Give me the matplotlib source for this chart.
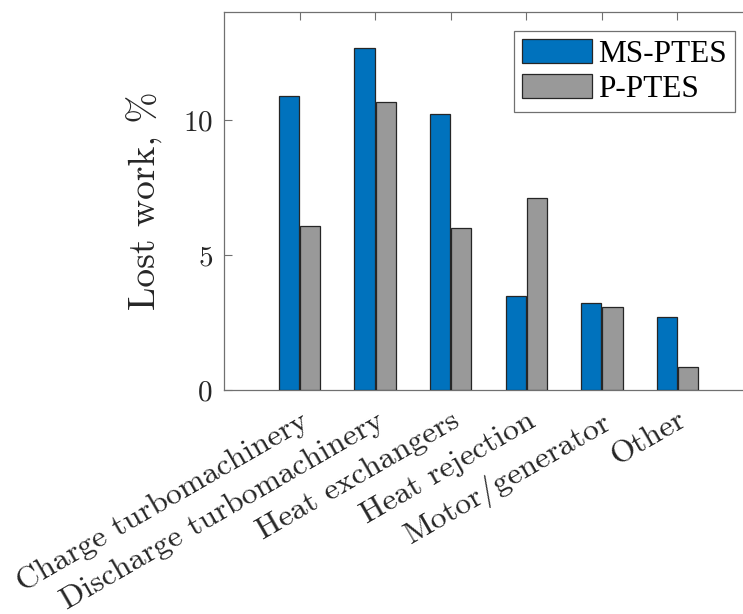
import matplotlib
matplotlib.use("Agg")
import matplotlib.pyplot as plt
import numpy as np

categories = ["Charge turbomachinery", "Discharge turbomachinery", "Heat exchangers",
              "Heat rejection", "Motor/generator", "Other"]
ms_ptes = [10.9, 12.65, 10.22, 3.48, 3.22, 2.70]
p_ptes = [6.09, 10.68, 6.0, 7.12, 3.07, 0.86]
series_names = ["MS-PTES", "P-PTES"]
yticks = [0, 5, 10]

plt.rcParams["font.family"] = ["cmr10", "DejaVu Serif"]
plt.rcParams["axes.formatter.use_mathtext"] = True
plt.rcParams["mathtext.fontset"] = "cm"

fig = plt.figure(figsize=(7.43, 6.14), dpi=100)
# plot box runs past the right edge of the canvas (x from 0 to 7.5)
unit = (753 - 224) / 7
ax = fig.add_axes([224 / 743, 1 - 390 / 614, 7.5 * unit / 743, (390 - 12) / 614])
ax.patch.set_visible(False)

x = np.arange(1, len(categories) + 1)
w = 0.27
off = 0.14
ax.bar(x - off, ms_ptes, w, color="#0072BD", edgecolor="#262626", linewidth=0.9,
       label=series_names[0], zorder=3)
ax.bar(x + off, p_ptes, w, color="#999999", edgecolor="#262626", linewidth=0.9,
       label=series_names[1], zorder=3)

ax.set_xlim(0, 7.5)
ax.set_ylim(0, 14)
ax.set_yticks(yticks)
ax.set_xticks(x)
ax.set_xticklabels(categories, rotation=30, ha="right", rotation_mode="anchor",
                   fontsize=23, color="#262626")
ax.tick_params(axis="y", labelsize=21, labelcolor="#262626", pad=8)
ax.tick_params(direction="in", length=6, width=0.8, color="#707070",
               top=True, right=False)
ax.tick_params(axis="x", pad=12)
for s in ax.spines.values():
    s.set_color("#707070")
    s.set_linewidth(0.9)
ax.spines["right"].set_visible(False)
ax.set_ylabel("Lost work, %", fontsize=27, color="#262626", labelpad=14)

leg = ax.legend(loc="upper right", bbox_to_anchor=(735 / 743, 1 - 31 / 614),
                bbox_transform=fig.transFigure, borderaxespad=0,
                prop={"family": "Liberation Serif", "size": 22.5},
                fancybox=False, framealpha=1, edgecolor="#707070",
                handlelength=2.24, handleheight=0.83, handletextpad=0.2,
                borderpad=0.25, labelspacing=0.15)
leg.get_frame().set_linewidth(0.9)

fig.savefig("out.png", dpi=100)
